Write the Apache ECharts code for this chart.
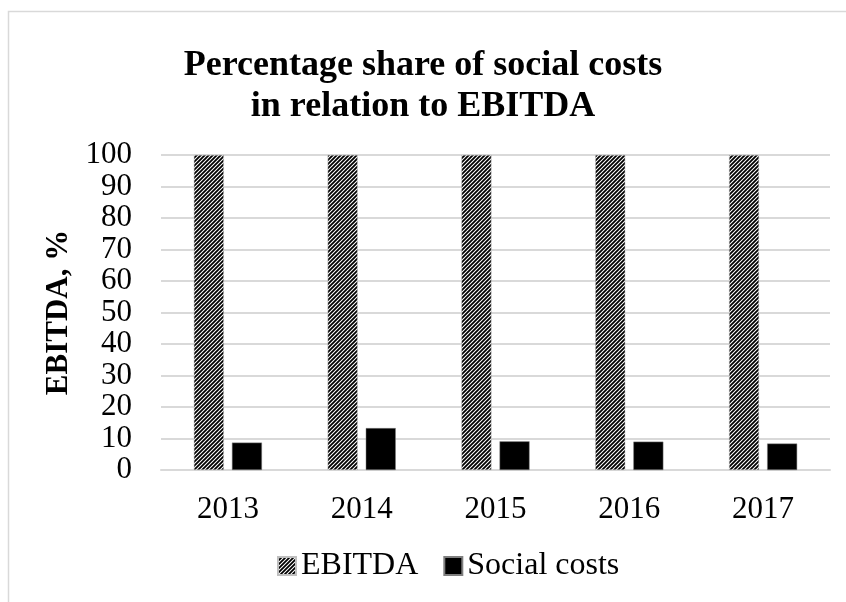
<!DOCTYPE html>
<html>
<head>
<meta charset="utf-8">
<script src="https://cdn.jsdelivr.net/npm/echarts@6/dist/echarts.min.js"></script>
<style>
html,body{margin:0;padding:0;background:#fff;}
#chart{width:846px;height:602px;}
</style>
</head>
<body>
<div id="chart"></div>
<script>
var categories = ['2013', '2014', '2015', '2016', '2017'];
var ebitdaValues = [100, 100, 100, 100, 100];
var socialCostValues = [8.7, 13.3, 9.1, 9.0, 8.4];
var yTicks = [0, 10, 20, 30, 40, 50, 60, 70, 80, 90, 100];

function makeHatch() {
  var c = document.createElement('canvas');
  c.width = 4; c.height = 4;
  var g = c.getContext('2d');
  g.fillStyle = '#ffffff';
  g.fillRect(0, 0, 4, 4);
  g.strokeStyle = '#000000';
  g.lineWidth = 1.8;
  g.beginPath();
  g.moveTo(-1, 5); g.lineTo(5, -1);
  g.moveTo(-1, 1); g.lineTo(1, -1);
  g.moveTo(3, 5); g.lineTo(5, 3);
  g.stroke();
  return c;
}
var hatch = {image: makeHatch(), repeat: 'repeat'};

var chart = echarts.init(document.getElementById('chart'), null, {renderer: 'canvas'});
var serif = '"Liberation Serif", "Times New Roman", serif';
chart.setOption({
  backgroundColor: '#ffffff',
  animation: false,
  graphic: [{
    type: 'rect',
    shape: {x: 8.5, y: 11.5, width: 900, height: 700},
    style: {fill: 'none', stroke: '#d9d9d9', lineWidth: 1.5},
    silent: true
  }],
  title: {
    text: 'Percentage share of social costs\nin relation to EBITDA',
    left: 'center',
    top: 40,
    textStyle: {
      fontFamily: serif, fontWeight: 'bold', fontSize: 36, lineHeight: 41, color: '#000'
    }
  },
  legend: {
    bottom: 15,
    left: 272,
    itemWidth: 18,
    itemHeight: 18,
    itemGap: 25,
    icon: 'rect',
    textStyle: {fontFamily: serif, fontSize: 32, color: '#000'},
    data: ['EBITDA', 'Social costs']
  },
  grid: {left: 161, right: 16, top: 155, bottom: 132, containLabel: false},
  xAxis: {
    type: 'category',
    data: categories,
    axisLine: {show: true, lineStyle: {color: '#d9d9d9', width: 2}},
    axisTick: {show: false},
    axisLabel: {fontFamily: serif, fontSize: 31, color: '#000', margin: 24}
  },
  yAxis: {
    type: 'value',
    min: yTicks[0],
    max: yTicks[yTicks.length - 1],
    interval: yTicks[1] - yTicks[0],
    name: 'EBITDA, %',
    nameLocation: 'middle',
    nameGap: 81,
    nameRotate: 90,
    nameTextStyle: {fontFamily: serif, fontWeight: 'bold', fontSize: 31, color: '#000'},
    axisLine: {show: false},
    axisTick: {show: false},
    splitLine: {lineStyle: {color: '#d9d9d9', width: 2}},
    axisLabel: {fontFamily: serif, fontSize: 31, color: '#000', margin: 29}
  },
  series: [{
    name: 'EBITDA',
    type: 'bar',
    data: ebitdaValues,
    barWidth: 30,
    barGap: '27%',
    itemStyle: {color: hatch, borderColor: '#bfbfbf', borderWidth: 0.5}
  }, {
    name: 'Social costs',
    type: 'bar',
    data: socialCostValues,
    barWidth: 30,
    itemStyle: {color: '#000000', borderColor: '#7f7f7f', borderWidth: 0.5}
  }]
});
</script>
</body>
</html>
